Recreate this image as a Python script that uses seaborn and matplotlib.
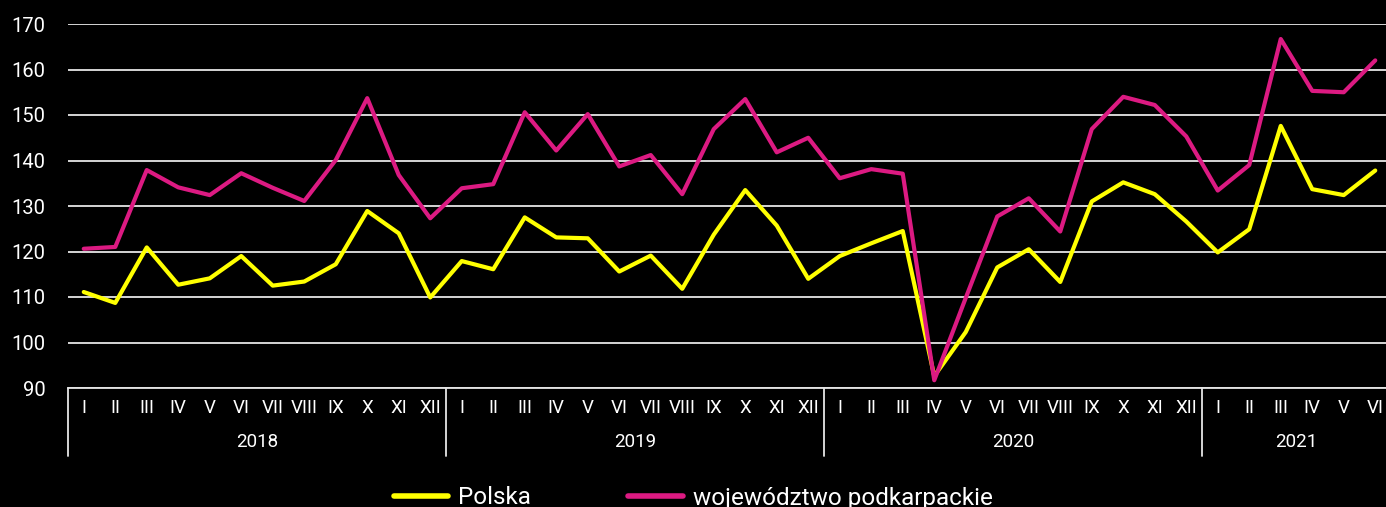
import numpy as np
import pandas as pd
import matplotlib
matplotlib.use("Agg")
import matplotlib.pyplot as plt
import matplotlib.transforms as mtransforms
import seaborn as sns

# --- DATA ---
YEARS = ["2018", "2019", "2020", "2021"]
MONTHS_PER_YEAR = [12, 12, 12, 6]
MONTH_LABELS = ["I", "II", "III", "IV", "V", "VI", "VII", "VIII", "IX", "X", "XI", "XII"]

polska = [
    111.1, 108.7, 120.9, 112.7, 114.1, 119.0, 112.5, 113.4, 117.2, 128.9, 124.0, 109.9,
    117.9, 116.1, 127.5, 123.1, 122.9, 115.6, 119.1, 111.8, 123.7, 133.5, 125.7, 114.0,
    119.0, 121.8, 124.5, 92.6, 102.3, 116.5, 120.5, 113.3, 131.0, 135.2, 132.6, 126.6,
    119.8, 124.9, 147.6, 133.7, 132.4, 137.8,
]
podkarpackie = [
    120.6, 121.0, 137.9, 134.1, 132.4, 137.2, 134.0, 131.1, 140.1, 153.7, 136.8, 127.3,
    133.9, 134.8, 150.6, 142.2, 150.2, 138.7, 141.2, 132.6, 146.9, 153.5, 141.8, 145.0,
    136.1, 138.1, 137.1, 91.7, 109.8, 127.7, 131.7, 124.4, 146.9, 154.0, 152.2, 145.3,
    133.4, 139.0, 166.7, 155.3, 155.0, 162.0,
]
SERIES = ["Polska", "województwo podkarpackie"]
COLORS = {"Polska": "#FFFF00", "województwo podkarpackie": "#DC1A82"}

month_ticks = [m for n in MONTHS_PER_YEAR for m in MONTH_LABELS[:n]]
idx = np.arange(len(month_ticks))
df = pd.DataFrame({
    "t": np.concatenate([idx, idx]),
    "value": polska + podkarpackie,
    "series": [SERIES[0]] * len(idx) + [SERIES[1]] * len(idx),
})

sns.set_theme(style="dark")
plt.rcParams["font.family"] = ["Roboto", "DejaVu Sans"]

W, H = 1386, 507
fig = plt.figure(figsize=(W / 100, H / 100), dpi=100, facecolor="black")
ax = fig.add_axes([68 / W, 1 - 388 / H, 1323 / W, 364 / H])
ax.set_facecolor("black")

sns.lineplot(data=df, x="t", y="value", hue="series", palette=COLORS,
             linewidth=3.0, ax=ax, legend=False, zorder=3)

ax.set_xlim(-0.5, len(idx) - 0.5)
ax.set_ylim(90, 170)
ax.set_yticks(range(90, 171, 10))
ax.yaxis.grid(True, color="#e6e6e6", linewidth=1.3)
ax.xaxis.grid(False)
for s in ["top", "right", "left"]:
    ax.spines[s].set_visible(False)
ax.spines["bottom"].set_color("#e6e6e6")
ax.spines["bottom"].set_linewidth(1.3)

ax.tick_params(axis="y", length=0, pad=16, labelsize=14.5, labelcolor="white")
ax.set_xticks(idx)
ax.set_xticklabels(month_ticks)
ax.tick_params(axis="x", length=0, pad=8, labelsize=13.5, labelcolor="white")
ax.set_xlabel("")
ax.set_ylabel("")

# year groups: separators + labels
trans = mtransforms.blended_transform_factory(ax.transData, ax.transAxes)
start = 0
bounds = [start]
for n in MONTHS_PER_YEAR:
    start += n
    bounds.append(start)
for b in bounds[:-1]:
    ax.plot([b - 0.5, b - 0.5], [0, -0.186], transform=trans, color="#e6e6e6",
            linewidth=1.3, clip_on=False)
for y, a, b in zip(YEARS, bounds[:-1], bounds[1:]):
    ax.text((a + b - 1) / 2, -0.148, y, transform=trans, ha="center", va="center",
            color="white", fontsize=13.5)

# legend
handles = [plt.Line2D([], [], color=COLORS[s], linewidth=4, solid_capstyle="round")
           for s in SERIES]
leg = fig.legend(handles, SERIES, loc="center", bbox_to_anchor=(0.5, 1 - 498 / H),
                 ncol=2, frameon=False, fontsize=17.5, handlelength=2.25,
                 handletextpad=0.4, columnspacing=4.0, labelcolor="white")

fig.savefig("out.png", dpi=100, facecolor="black")
